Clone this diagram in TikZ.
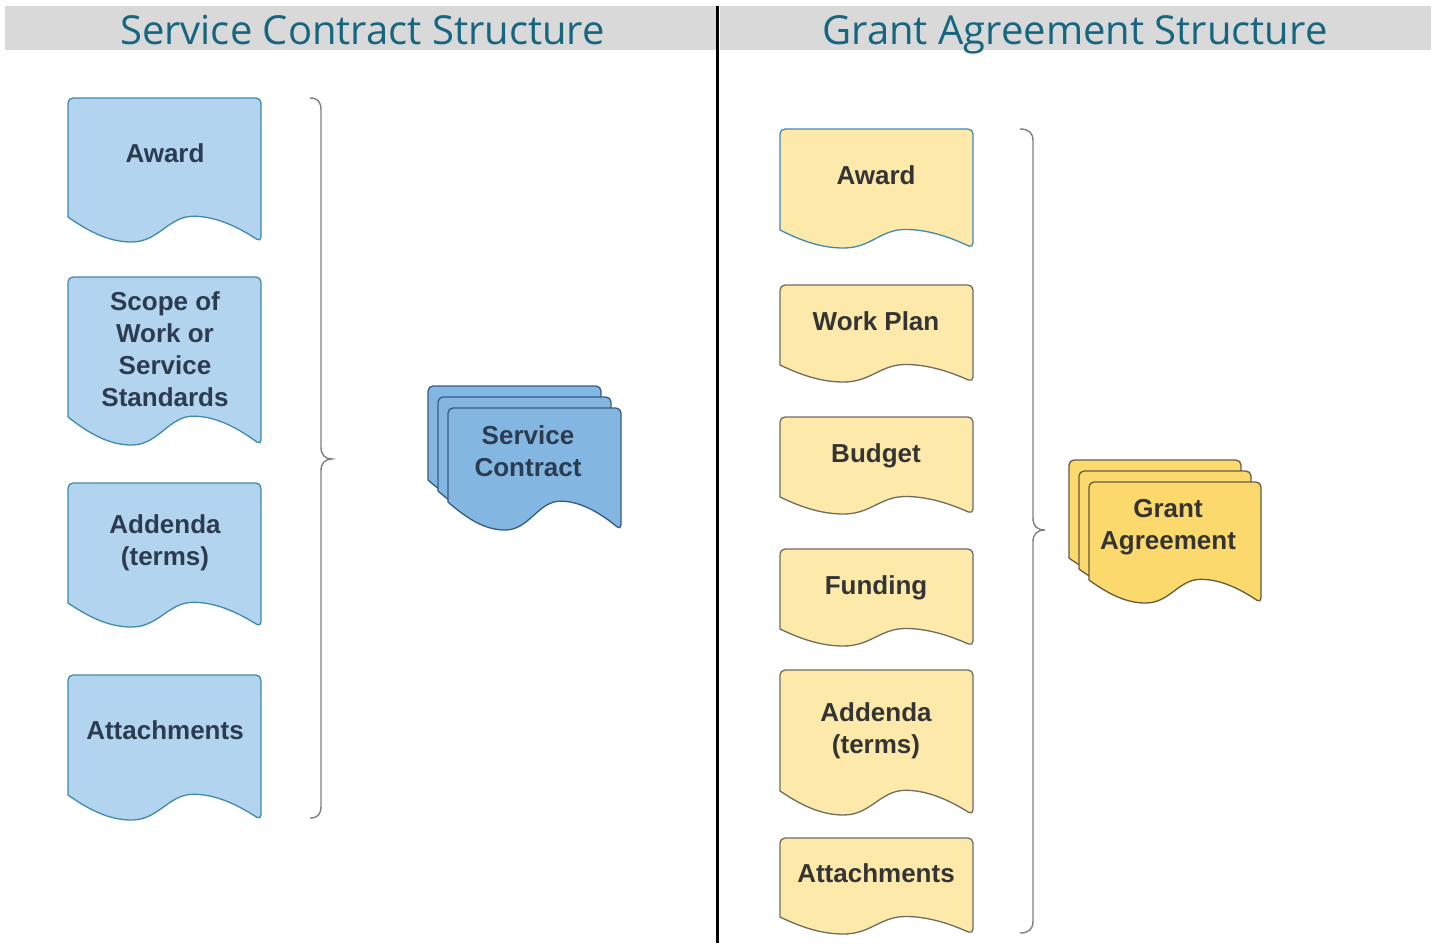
\documentclass[tikz,border=0pt]{standalone}
\usepackage{fontspec}
\setmainfont{Liberation Sans}
\newfontfamily\titlefont{Open Sans}
\definecolor{bandgray}{RGB}{217,217,217}
\definecolor{titleteal}{RGB}{22,102,128}
\definecolor{bluefill}{RGB}{178,212,238}
\definecolor{bluestroke}{RGB}{64,138,178}
\definecolor{bluedark}{RGB}{132,182,226}
\definecolor{bluedarkstroke}{RGB}{52,92,132}
\definecolor{yelfill}{RGB}{253,233,170}
\definecolor{yelstroke}{RGB}{112,108,96}
\definecolor{yeldark}{RGB}{252,217,108}
\definecolor{yeldarkstroke}{RGB}{100,92,64}
\definecolor{bluetext}{RGB}{44,60,80}
\definecolor{yeltext}{RGB}{52,52,52}
\definecolor{bracegray}{RGB}{128,128,128}
\newcommand\docshp[6]{%
  \path[#6] ({#1},{#2+#4/2}) [rounded corners=5pt] -- ({#1},{#2}) -- ({#1+#3},{#2}) -- ({#1+#3},{#2+#4+#5}) [sharp corners]
    .. controls ({#1+0.9*#3},{#2+#4+0.5*#5}) and ({#1+0.78*#3},{#2+#4-0.03*#5}) .. ({#1+0.65*#3},{#2+#4-0.03*#5})
    .. controls ({#1+0.52*#3},{#2+#4-0.03*#5}) and ({#1+0.47*#3},{#2+#4+#5}) .. ({#1+0.33*#3},{#2+#4+#5})
    .. controls ({#1+0.22*#3},{#2+#4+#5}) and ({#1+0.12*#3},{#2+#4+0.65*#5}) .. ({#1},{#2+#4}) -- cycle;}
\tikzset{
  bluedoc/.style={fill=bluefill, draw=bluestroke, line width=1.3pt},
  bluebig/.style={fill=bluedark, draw=bluedarkstroke, line width=1.3pt},
  yeldoc/.style={fill=yelfill, draw=yelstroke, line width=1.3pt},
  yelaward/.style={fill=yelfill, draw=bluestroke, line width=1.3pt},
  yelbig/.style={fill=yeldark, draw=yeldarkstroke, line width=1.3pt},
  lbl/.style={font=\bfseries\fontsize{26}{32}\selectfont, align=center, text depth=0pt, inner sep=0pt},
  bluelbl/.style={lbl, text=bluetext},
  yellbl/.style={lbl, text=yeltext},
  ttl/.style={font=\titlefont\fontsize{40}{44}\selectfont, text=titleteal, text depth=0pt, inner sep=0pt},
  bracestyle/.style={draw=bracegray, line width=1.4pt}
}
\begin{document}
\begin{tikzpicture}[x=1pt, y=-1pt]
\useasboundingbox (0,0) rectangle (1439,943);
\fill[white] (0,0) rectangle (1439,943);
% header bands
\fill[bandgray] (5,6) rectangle (716,50);
\fill[bandgray] (720,6) rectangle (1431,50);
\node[ttl] (t1) at (362.5,30) {Service Contract Structure};
\node[ttl] (t2) at (1075,30) {Grant Agreement Structure};
% divider
\coordinate (dtop) at (717.5,6);
\coordinate (dbot) at (717.5,943);
\draw[black, line width=2.2pt] (dtop) -- (dbot);
% left documents
\docshp{68}{98}{193}{119}{25}{bluedoc}
\docshp{68}{277}{193}{140}{28}{bluedoc}
\docshp{68}{483}{193}{120}{24}{bluedoc}
\docshp{68}{675}{193}{120}{25}{bluedoc}
\node[bluelbl] (la) at (165,153) {Award};
\node[bluelbl] (ls) at (165,349.5) {Scope of\\Work or\\Service\\Standards};
\node[bluelbl] (ld) at (165,540) {Addenda\\(terms)};
\node[bluelbl] (lt) at (165,730) {Attachments};
% left brace
\draw[bracestyle] (310,98) .. controls (318,98) and (321,102) .. (321,110) -- (321,447)
  .. controls (321,455) and (325,459) .. (332,459) .. controls (325,459) and (321,463) .. (321,471)
  -- (321,806) .. controls (321,814) and (318,818) .. (310,818);
% service contract stack
\docshp{428}{386}{173}{94}{28}{bluebig}
\docshp{438}{397}{173}{94}{28}{bluebig}
\docshp{448}{408}{173}{94}{28}{bluebig}
\node[bluelbl] (sc) at (528,451) {Service\\Contract};
% right documents
\docshp{780}{129}{193}{101}{18}{yelaward}
\docshp{780}{285}{193}{80}{17}{yeldoc}
\docshp{780}{417}{193}{80}{17}{yeldoc}
\docshp{780}{549}{193}{80}{17}{yeldoc}
\docshp{780}{670}{193}{121}{24}{yeldoc}
\docshp{780}{838}{193}{79}{17}{yeldoc}
\node[yellbl] (ra) at (876,175) {Award};
\node[yellbl] (rw) at (876,321) {Work Plan};
\node[yellbl] (rb) at (876,453) {Budget};
\node[yellbl] (rf) at (876,585) {Funding};
\node[yellbl] (rd) at (876,728) {Addenda\\(terms)};
\node[yellbl] (rt) at (876,873) {Attachments};
% right brace
\draw[bracestyle] (1020,129) .. controls (1029,129) and (1033,133) .. (1033,141) -- (1033,518)
  .. controls (1033,526) and (1037,530) .. (1045,530) .. controls (1037,530) and (1033,534) .. (1033,542)
  -- (1033,921) .. controls (1033,929) and (1029,933) .. (1020,933);
% grant agreement stack
\docshp{1069}{460}{172}{98}{23}{yelbig}
\docshp{1079}{471}{172}{98}{23}{yelbig}
\docshp{1089}{482}{172}{98}{23}{yelbig}
\node[yellbl] (ga) at (1168,524) {Grant\\Agreement};
\end{tikzpicture}
\end{document}
